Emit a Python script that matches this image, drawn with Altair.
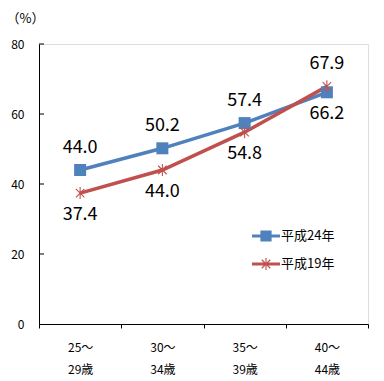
import math
import altair as alt
import pandas as pd

categories = ["25～29歳", "30～34歳", "35～39歳", "40～44歳"]
series_names = ["平成24年", "平成19年"]
values_h24 = [44.0, 50.2, 57.4, 66.2]
values_h19 = [37.4, 44.0, 54.8, 67.9]
label_side_h24 = ["above", "above", "above", "below"]
label_side_h19 = ["below", "below", "below", "above"]
y_ticks = [0, 20, 40, 60, 80]
colors = ["#4F81BD", "#C0504D"]
FONT = "Noto Sans CJK JP"

rows = []
for name, vals, sides in [(series_names[0], values_h24, label_side_h24),
                          (series_names[1], values_h19, label_side_h19)]:
    for c, v, s in zip(categories, vals, sides):
        rows.append({"age": c, "series": name, "value": v, "side": s})
df = pd.DataFrame(rows)
tick_df = pd.DataFrame({"t": y_ticks[1:]})


def bar(hl, hw, ang):
    a = math.radians(ang)
    ux, uy = math.cos(a), math.sin(a)
    vx, vy = -uy, ux
    pts = [(ux * sx * hl + vx * sy * hw, uy * sx * hl + vy * sy * hw)
           for sx, sy in [(-1, -1), (1, -1), (1, 1), (-1, 1)]]
    return "M" + "L".join(f"{x:.3f},{y:.3f}" for x, y in pts) + "Z"


def asterisk(hl, hw):
    return "".join(bar(hl, hw, a) for a in (45, 135, 90))


def square(h):
    return f"M{-h},{-h}L{h},{-h}L{h},{h}L{-h},{h}Z"


line_stub = bar(1.0, 0.11, 0)
marker_shapes = ["square", asterisk(1.0, 0.09)]
legend_shapes = [line_stub + square(0.40), line_stub + asterisk(0.43, 0.04)]

x_enc = alt.X(
    "age:N", sort=categories,
    scale=alt.Scale(type="band", paddingInner=0, paddingOuter=0),
    axis=alt.Axis(title=None, tickBand="extent", labelAngle=0,
                  labelExpr="[slice(datum.label,0,3), slice(datum.label,3)]",
                  labelLineHeight=22, labelPadding=14, tickSize=4,
                  labelFontSize=12, labelFont=FONT, labelColor="black",
                  labelBaseline="top",
                  domainColor="black", tickColor="black"),
)
y_enc = alt.Y(
    "value:Q", scale=alt.Scale(domain=[0, 80]),
    axis=alt.Axis(values=y_ticks, grid=False, tickSize=0, labelPadding=15,
                  labelFontSize=12, labelFont=FONT, labelColor="black",
                  domainColor="black",
                  title="（%）", titleAngle=0, titleX=-33, titleY=-26,
                  titleAlign="left", titleBaseline="middle",
                  titleFontWeight="normal", titleFontSize=13, titleFont=FONT,
                  titleColor="black"),
)
color_scale = alt.Scale(domain=series_names, range=colors)

base = alt.Chart(df)

lines = base.mark_line(strokeWidth=3.5).encode(
    x=x_enc, y=y_enc,
    color=alt.Color("series:N", scale=color_scale, legend=None),
)

points = base.mark_point(filled=True, size=144, opacity=1).encode(
    x=x_enc, y=y_enc,
    color=alt.Color("series:N", scale=color_scale, legend=None),
    shape=alt.Shape("series:N", scale=alt.Scale(domain=series_names, range=marker_shapes), legend=None),
)

legend_layers = []
for i, (name, col, shp) in enumerate(zip(series_names, colors, legend_shapes)):
    leg = alt.Legend(title=None, orient="none", legendX=213, legendY=178 + 28 * i,
                     symbolSize=784, symbolStrokeWidth=0, rowPadding=0,
                     symbolOpacity=1, symbolFillColor=col,
                     labelFontSize=13, labelFont=FONT, labelColor="black",
                     labelOffset=1, padding=0)
    legend_layers.append(
        base.transform_filter(alt.datum.series == name)
        .mark_point(filled=True, size=0, color=col)
        .encode(
            x=x_enc, y=y_enc,
            shape=alt.Shape("series:N", scale=alt.Scale(domain=[name], range=[shp]), legend=leg),
        )
    )

labels_above = base.mark_text(dy=-22, fontSize=18, font=FONT, color="black").encode(
    x=x_enc, y=y_enc, text=alt.Text("value:Q", format=".1f"),
).transform_filter("datum.side == 'above'")
labels_below = base.mark_text(dy=22, fontSize=18, font=FONT, color="black").encode(
    x=x_enc, y=y_enc, text=alt.Text("value:Q", format=".1f"),
).transform_filter("datum.side == 'below'")

ticks = alt.Chart(tick_df).mark_rule(color="black", strokeWidth=1).encode(
    y=alt.Y("t:Q"), x=alt.value(0), x2=alt.value(5),
)

chart = alt.layer(ticks, lines, points, *legend_layers, labels_above, labels_below).resolve_scale(
    shape="independent"
).resolve_legend(shape="independent").properties(
    width=329, height=280,
    autosize=alt.AutoSizeParams(type="none"),
    padding={"left": 31, "top": 36, "right": 8, "bottom": 57},
).configure_view(stroke=None).configure(font=FONT)

chart.save("out.html", embed_options={"renderer": "svg", "actions": False})
